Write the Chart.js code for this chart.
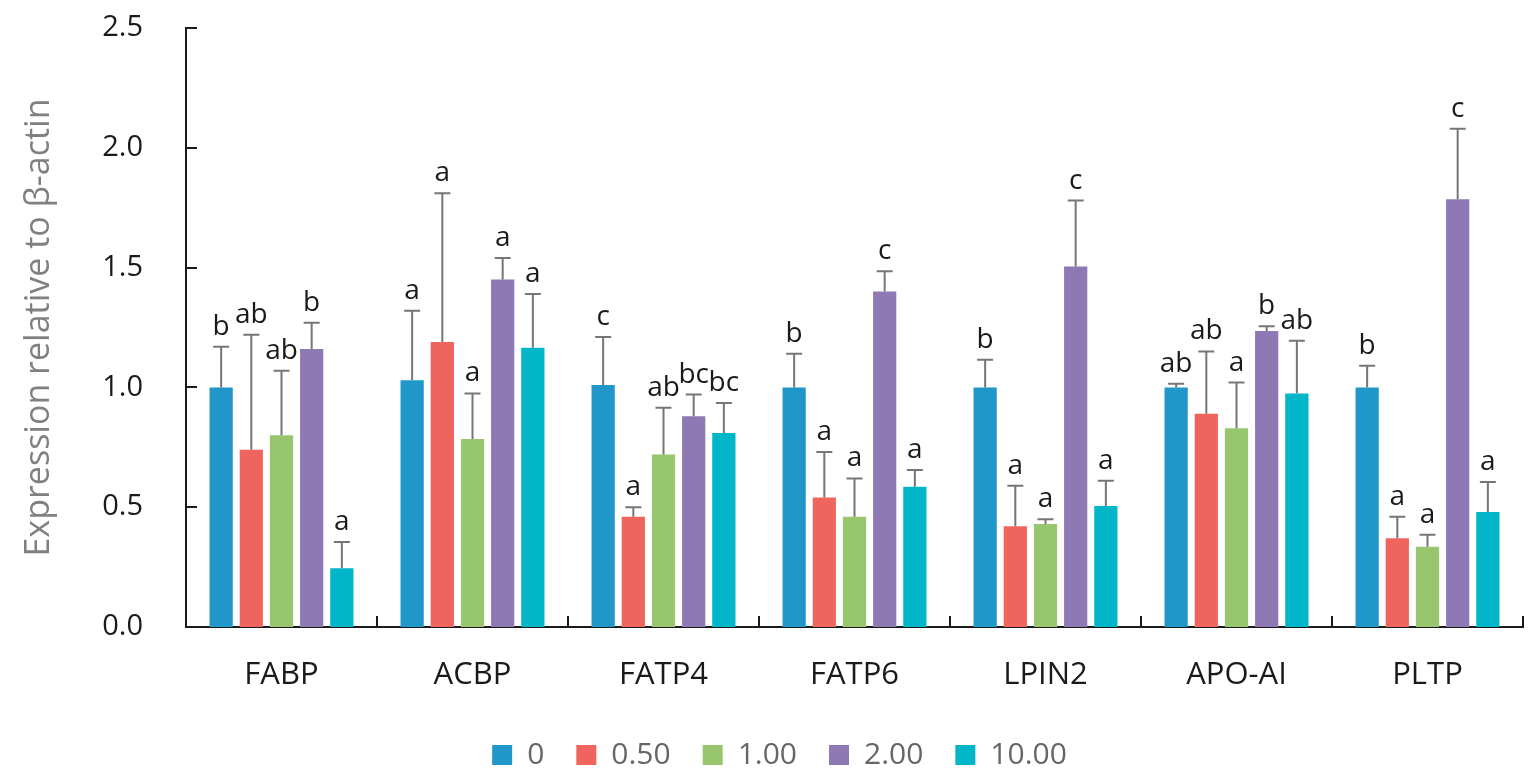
<!DOCTYPE html>
<html>
<head>
<meta charset="utf-8">
<script src="https://cdn.jsdelivr.net/npm/chart.js@4.4.1/dist/chart.umd.min.js"></script>
<style>
  html, body { margin: 0; padding: 0; background: #ffffff; }
  #wrap { width: 1537px; height: 779px; position: relative; }
</style>
</head>
<body>
<div id="wrap"><canvas id="chart"></canvas></div>
<script>
// Genes on the x axis
const genes = ['FABP', 'ACBP', 'FATP4', 'FATP6', 'LPIN2', 'APO-AI', 'PLTP'];

// Dose groups (legend) and their colours
const doses = ['0', '0.50', '1.00', '2.00', '10.00'];
const doseColors = ['#2196C9', '#F0645E', '#97C66E', '#8F79B4', '#00B6C8'];

// Mean expression relative to β-actin, one array per dose
const mean0    = [1.00, 1.03, 1.01, 1.00, 1.00, 1.00, 1.00];
const mean050  = [0.74, 1.19, 0.46, 0.54, 0.42, 0.89, 0.37];
const mean100  = [0.80, 0.785, 0.72, 0.46, 0.43, 0.83, 0.335];
const mean200  = [1.16, 1.45, 0.88, 1.40, 1.505, 1.235, 1.785];
const mean1000 = [0.245, 1.165, 0.81, 0.585, 0.505, 0.975, 0.48];

// Standard deviations (upper error bars)
const sd0    = [0.17, 0.29, 0.20, 0.14, 0.115, 0.015, 0.09];
const sd050  = [0.48, 0.62, 0.04, 0.19, 0.17, 0.26, 0.09];
const sd100  = [0.27, 0.19, 0.195, 0.16, 0.02, 0.19, 0.05];
const sd200  = [0.11, 0.09, 0.09, 0.085, 0.275, 0.02, 0.295];
const sd1000 = [0.11, 0.225, 0.125, 0.07, 0.105, 0.22, 0.125];

// Significance letters
const sig0    = ['b', 'a', 'c', 'b', 'b', 'ab', 'b'];
const sig050  = ['ab', 'a', 'a', 'a', 'a', 'ab', 'a'];
const sig100  = ['ab', 'a', 'ab', 'a', 'a', 'a', 'a'];
const sig200  = ['b', 'a', 'bc', 'c', 'c', 'b', 'c'];
const sig1000 = ['a', 'a', 'bc', 'a', 'a', 'ab', 'a'];

// Y axis ticks
const yTicks = [0, 0.5, 1.0, 1.5, 2.0, 2.5];

const means = [mean0, mean050, mean100, mean200, mean1000];
const sds = [sd0, sd050, sd100, sd200, sd1000];
const sigs = [sig0, sig050, sig100, sig200, sig1000];

const FONT = '"Open Sans", "DejaVu Sans", sans-serif';

const datasets = doses.map((d, i) => ({
  label: d,
  data: means[i],
  backgroundColor: doseColors[i],
  borderWidth: 0,
  categoryPercentage: 0.79,
  barPercentage: 0.77,
  errorUp: sds[i],
  letters: sigs[i]
}));

// Upper error bars and significance letters
const errorBarPlugin = {
  id: 'errorBars',
  afterDatasetsDraw(chart) {
    const ctx = chart.ctx;
    const y = chart.scales.y;
    ctx.save();
    chart.data.datasets.forEach((ds, di) => {
      const meta = chart.getDatasetMeta(di);
      meta.data.forEach((bar, i) => {
        const yTop = y.getPixelForValue(ds.data[i] + ds.errorUp[i]);
        const yBar = y.getPixelForValue(ds.data[i]);
        ctx.strokeStyle = '#767676';
        ctx.lineWidth = 2;
        ctx.beginPath();
        ctx.moveTo(bar.x, yBar);
        ctx.lineTo(bar.x, yTop);
        ctx.moveTo(bar.x - 8, yTop);
        ctx.lineTo(bar.x + 8, yTop);
        ctx.stroke();
        ctx.fillStyle = '#1a1a1a';
        ctx.font = '28px ' + FONT;
        ctx.textAlign = 'center';
        ctx.textBaseline = 'alphabetic';
        ctx.fillText(ds.letters[i], bar.x, yTop - 12);
      });
    });
    ctx.restore();
  }
};

// Inward tick marks on both axes
const innerTicksPlugin = {
  id: 'innerTicks',
  afterDraw(chart) {
    const ctx = chart.ctx;
    const a = chart.chartArea;
    const y = chart.scales.y;
    const n = genes.length;
    const cw = (a.right - a.left) / n;
    ctx.save();
    ctx.strokeStyle = '#1a1a1a';
    ctx.lineWidth = 2;
    ctx.beginPath();
    yTicks.forEach(v => {
      const py = Math.round(y.getPixelForValue(v));
      ctx.moveTo(a.left, py);
      ctx.lineTo(a.left + 11, py);
    });
    for (let i = 1; i <= n; i++) {
      const px = Math.round(a.left + i * cw);
      ctx.moveTo(px, a.bottom);
      ctx.lineTo(px, a.bottom - 11);
    }
    ctx.stroke();
    ctx.restore();
  }
};

new Chart(document.getElementById('chart'), {
  type: 'bar',
  data: { labels: genes, datasets },
  options: {
    responsive: true,
    maintainAspectRatio: false,
    animation: false,
    layout: { padding: { left: 36, right: 14, top: 28, bottom: -1 } },
    plugins: {
      legend: {
        position: 'bottom',
        labels: {
          boxWidth: 20,
          boxHeight: 20,
          padding: 32,
          color: '#666666',
          font: { family: FONT, size: 30 }
        }
      },
      tooltip: { enabled: false }
    },
    scales: {
      x: {
        grid: { display: false, drawTicks: false },
        border: { display: true, color: '#1a1a1a', width: 2 },
        ticks: { color: '#1a1a1a', padding: 30, font: { family: FONT, size: 31 } },
        afterFit(scale) { scale.height = 81; }
      },
      y: {
        min: 0,
        max: 2.5,
        afterBuildTicks(scale) { scale.ticks = yTicks.map(v => ({ value: v })); },
        grid: { display: false, drawTicks: true, tickLength: 43 },
        border: { display: true, color: '#1a1a1a', width: 2 },
        ticks: {
          color: '#1a1a1a',
          padding: 0,
          font: { family: FONT, size: 29 },
          callback: v => Number(v).toFixed(1)
        },
        title: {
          display: true,
          text: 'Expression relative to β-actin',
          color: '#808080',
          font: { family: FONT, size: 34 },
          padding: { top: -17, bottom: 0 }
        },
        afterFit(scale) { scale.width = 150; }
      }
    }
  },
  plugins: [errorBarPlugin, innerTicksPlugin]
});
</script>
</body>
</html>
